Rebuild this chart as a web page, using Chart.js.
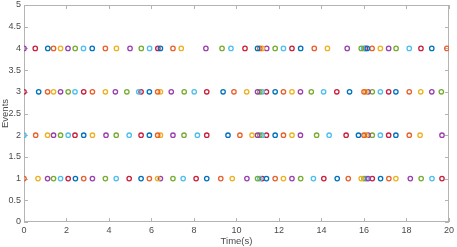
<!DOCTYPE html>
<html>
<head>
<meta charset="utf-8">
<script src="https://cdn.jsdelivr.net/npm/chart.js@4"></script>
<style>
  html, body { margin: 0; padding: 0; background: #fff; }
  canvas { display: block; }
</style>
</head>
<body>
<canvas id="chart" width="457" height="247"></canvas>
<script>
// source index per event: 0 blue, 1 orange, 2 yellow, 3 purple, 4 green, 5 cyan, 6 red
const sourceNames = ["S1", "S2", "S3", "S4", "S5", "S6", "S7"];
const eventRows = [1, 2, 3, 4];

const times1 = [0, 0.66, 1.11, 1.39, 1.72, 2.08, 2.42, 2.81, 3.22, 3.83, 4.34, 4.95, 5.51, 5.90, 6.29, 6.42, 7.01, 7.49, 8.10, 8.60, 9.26, 9.80, 10.49, 10.99, 11.10, 11.21, 11.41, 11.82, 12.21, 12.61, 13.02, 13.62, 14.11, 14.74, 15.26, 15.87, 16.00, 16.10, 16.19, 16.39, 16.78, 17.17, 17.50, 18.18, 18.69, 19.20, 19.67];
const src1   = [1, 2, 3, 4, 5, 6, 0, 1, 3, 4, 5, 6, 0, 1, 2, 3, 4, 5, 6, 0, 1, 2, 3, 4, 5, 6, 0, 1, 2, 3, 4, 5, 6, 0, 1, 2, 4, 5, 3, 6, 0, 1, 2, 3, 4, 5, 6];

const times2 = [0, 0.55, 1.11, 1.39, 1.72, 2.08, 2.40, 2.81, 3.22, 3.86, 4.34, 4.95, 5.51, 5.90, 6.29, 6.42, 7.01, 7.53, 8.16, 8.60, 9.60, 10.16, 10.73, 10.99, 11.10, 11.21, 11.41, 11.82, 12.21, 12.61, 13.01, 13.77, 14.36, 15.16, 15.74, 16.00, 16.10, 16.19, 16.39, 16.77, 17.16, 17.50, 18.13, 18.64, 19.67];
const src2   = [5, 1, 2, 3, 4, 5, 6, 0, 2, 3, 4, 5, 6, 0, 1, 2, 3, 4, 5, 6, 0, 1, 2, 3, 4, 5, 6, 0, 1, 2, 3, 4, 5, 6, 0, 1, 2, 3, 4, 5, 6, 0, 1, 2, 3];

const times3 = [0, 0.69, 1.11, 1.39, 1.72, 2.08, 2.40, 2.81, 3.22, 3.83, 4.30, 4.84, 5.40, 5.51, 5.90, 6.29, 6.42, 6.93, 7.54, 8.01, 8.60, 9.37, 9.88, 10.48, 10.99, 11.10, 11.21, 11.41, 11.82, 12.21, 12.61, 13.01, 13.52, 14.10, 14.72, 15.32, 16.00, 16.09, 16.19, 16.39, 16.77, 17.16, 17.50, 18.13, 18.67, 19.19, 19.64];
const src3   = [6, 0, 1, 2, 3, 4, 5, 6, 1, 2, 3, 4, 5, 6, 0, 1, 2, 3, 4, 5, 6, 0, 1, 2, 3, 4, 5, 6, 0, 1, 2, 3, 4, 5, 6, 0, 1, 2, 3, 4, 5, 6, 0, 1, 2, 3, 4];

const times4 = [0, 0.53, 1.12, 1.39, 1.72, 2.07, 2.41, 2.80, 3.21, 3.83, 4.35, 4.99, 5.52, 5.91, 6.30, 6.42, 7.01, 7.40, 8.56, 9.32, 9.74, 10.40, 10.99, 11.10, 11.21, 11.42, 11.82, 12.21, 12.61, 13.02, 13.66, 14.28, 15.21, 15.87, 15.98, 16.06, 16.15, 16.38, 16.77, 17.16, 17.51, 18.13, 18.68, 19.19, 19.90];
const src4   = [3, 6, 0, 1, 2, 3, 4, 5, 0, 1, 2, 3, 4, 5, 6, 0, 1, 2, 3, 4, 5, 6, 0, 1, 2, 3, 4, 5, 6, 0, 1, 2, 3, 4, 5, 6, 0, 1, 2, 3, 4, 5, 6, 0, 1];

const xTicks = [0, 2, 4, 6, 8, 10, 12, 14, 16, 18, 20];
const yTicks = [0, 0.5, 1, 1.5, 2, 2.5, 3, 3.5, 4, 4.5, 5];

const palette = ["#0072BD", "#E8602C", "#EDB120", "#9A3FAE", "#77AC30", "#4DBEEE", "#C8203F"];

const rows = [
    [times1, src1],
    [times2, src2],
    [times3, src3],
    [times4, src4],
];

const datasets = sourceNames.map((name, s) => {
    const pts = [];
    rows.forEach(([times, srcs], r) => {
        times.forEach((t, i) => {
            if (srcs[i] === s) pts.push({ x: t, y: eventRows[r] });
        });
    });
    return {
        label: name,
        data: pts,
        showLine: false,
        borderColor: palette[s],
        backgroundColor: "rgba(0,0,0,0)",
        pointRadius: 2.2,
        pointBorderWidth: 1.3,
        pointHoverRadius: 2.2,
    };
});

const fontFamily = "'Liberation Sans', Arial, Helvetica, sans-serif";
const textColor = "#4a4a4a";

// axis box with inward ticks, like the original figure
const framePlugin = {
    id: "frame",
    beforeDatasetsDraw(chart) {
        const { ctx, chartArea: a, scales } = chart;
        ctx.save();
        ctx.strokeStyle = "#b4b4b4";
        ctx.lineWidth = 1;
        ctx.strokeRect(a.left + 0.5, a.top + 0.5, a.right - a.left - 1, a.bottom - a.top - 1);
        const len = 4;
        ctx.beginPath();
        xTicks.forEach(v => {
            const x = Math.round(scales.x.getPixelForValue(v)) + 0.5;
            ctx.moveTo(x, a.bottom); ctx.lineTo(x, a.bottom - len);
            ctx.moveTo(x, a.top); ctx.lineTo(x, a.top + len);
        });
        yTicks.forEach(v => {
            const y = Math.round(scales.y.getPixelForValue(v)) + 0.5;
            ctx.moveTo(a.left, y); ctx.lineTo(a.left + len, y);
            ctx.moveTo(a.right, y); ctx.lineTo(a.right - len, y);
        });
        ctx.stroke();

        // y tick labels
        ctx.fillStyle = textColor;
        ctx.font = "9px " + fontFamily;
        ctx.textAlign = "right";
        ctx.textBaseline = "middle";
        yTicks.forEach(v => {
            ctx.fillText(String(v), a.left - 3, scales.y.getPixelForValue(v));
        });
        ctx.restore();
    }
};

new Chart(document.getElementById("chart").getContext("2d"), {
    type: "scatter",
    data: { datasets },
    plugins: [framePlugin],
    options: {
        responsive: false,
        animation: false,
        devicePixelRatio: 1,
        layout: { padding: { top: 5, right: 6, left: 0, bottom: 0 } },
        plugins: {
            legend: { display: false },
            tooltip: { enabled: false }
        },
        scales: {
            x: {
                type: "linear",
                min: 0,
                max: 20,
                afterBuildTicks: (scale) => { scale.ticks = xTicks.map(v => ({ value: v })); },
                afterFit: (scale) => { scale.height = 25; },
                ticks: { autoSkip: false, color: textColor, padding: 3, font: { family: fontFamily, size: 9 } },
                grid: { display: false, drawTicks: false },
                border: { display: false },
                title: { display: true, text: "Time(s)", color: textColor, padding: 0, font: { family: fontFamily, size: 9.5 } }
            },
            y: {
                min: 0,
                max: 5,
                afterFit: (scale) => { scale.width = 24; },
                ticks: { display: false },
                grid: { display: false, drawTicks: false },
                border: { display: false },
                title: { display: true, text: "Events", color: textColor, padding: 0, font: { family: fontFamily, size: 9.5 } }
            }
        }
    }
});
</script>
</body>
</html>
